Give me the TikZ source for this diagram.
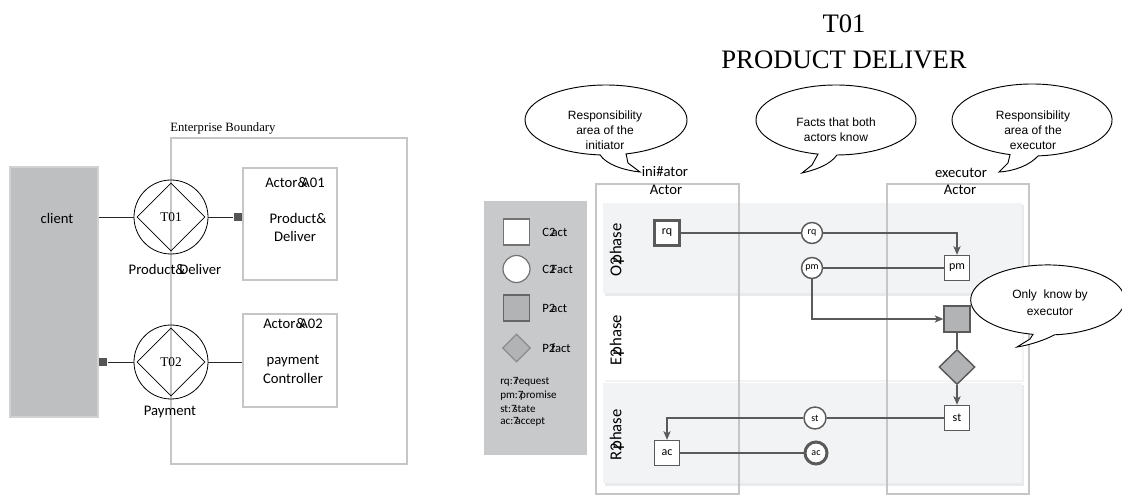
\documentclass[tikz,border=0pt]{standalone}
\usepackage{fontspec}
\setmainfont{Liberation Serif}
\newfontfamily\carl{Carlito}
\newfontfamily\ari{Liberation Sans}
\usetikzlibrary{shapes.geometric,arrows.meta}
\definecolor{lc}{HTML}{5A5A5A}
\definecolor{bordc}{HTML}{C6C6C6}
\definecolor{clientc}{HTML}{BEBFC1}
\definecolor{legc}{HTML}{C8C9CB}
\definecolor{pgray}{HTML}{B2B3B5}
\definecolor{bandc}{HTML}{F2F3F4}
\definecolor{shadc}{HTML}{E9EAEB}
\definecolor{darksq}{HTML}{555555}
\tikzset{
  graybox/.style={draw=bordc, line width=1.5pt, fill=white, inner sep=0pt},
  lconn/.style={draw=black!85, line width=0.6pt},
  conn/.style={draw=lc, line width=0.8pt},
  arr/.style={conn, -{Stealth[length=6.5pt,width=5.5pt,inset=1.8pt]}},
  smallsq/.style={rectangle, fill=darksq, minimum size=6pt, inner sep=0pt},
  tcirc/.style={circle, draw=black, line width=0.6pt, minimum size=55.5pt, inner sep=0pt},
  tdia/.style={diamond, draw=black, line width=0.6pt, minimum width=51pt, minimum height=51pt, inner sep=0pt, font=\fontsize{10}{12}\selectfont},
  ctxt/.style={font=\carl\fontsize{11}{13}\selectfont, inner sep=0pt},
  legtxt/.style={font=\carl\fontsize{9.5}{11}\selectfont, anchor=west, inner sep=0pt},
  abbr/.style={font=\carl\fontsize{8.3}{9.5}\selectfont, anchor=west, inner sep=0pt},
  sq/.style={rectangle, draw=lc, line width=1.1pt, fill=white, minimum size=18.75pt, inner sep=0pt, font=\carl\fontsize{9}{10}\selectfont},
  cf/.style={circle, draw=lc, line width=1.1pt, fill=white, minimum size=15.75pt, inner sep=0pt, font=\carl\fontsize{7.5}{8}\selectfont},
  bubble/.style={draw=black, line width=0.7pt, fill=white},
  btxt/.style={font=\ari\fontsize{9}{11.25}\selectfont, align=center, inner sep=0pt},
  phase/.style={font=\carl\fontsize{12.5}{14}\selectfont, rotate=90, inner sep=0pt}
}
\begin{document}
\begin{tikzpicture}[x=0.75pt,y=-0.75pt]
\useasboundingbox (0,0) rectangle (1122,495);

% ---------------- left part ----------------
\node[draw=bordc!80, line width=1.5pt, fill=clientc, minimum width=66pt, minimum height=187.5pt, inner sep=0pt] (client) at (54,292) {};
\node[ctxt] (clientlbl) at (57,218) {client};

\node[draw=bordc, line width=1.5pt, minimum width=177pt, minimum height=244.5pt, anchor=north west, inner sep=0pt] (eb) at (170,137) {};
\node[anchor=base west, inner sep=0pt, font=\fontsize{9.5}{11}\selectfont] (eblbl) at (170,132) {Enterprise Boundary};

\node[tcirc] (t01c) at (171,217) {};
\node[tdia] (t01) at (171,217) {T01};
\node[ctxt] (t01lbl) at (175,269) {Product\&\kern-.42em Deliver};

\node[graybox, minimum width=70.5pt, minimum height=84pt] (a01) at (290,224) {};
\node[ctxt] (a01t1) at (295,183) {Actor\&\kern-.42em A01};
\node[ctxt] (a01t2) at (298,218) {Product\&};
\node[ctxt] (a01t3) at (295,236) {Deliver};

\node[smallsq, anchor=east] (s1) at (a01.west |- t01c) {};
\draw[lconn] (client.east |- t01c) -- (t01c.west);
\draw[lconn] (t01c.east) -- (s1.west);

\node[tcirc] (t02c) at (171,362) {};
\node[tdia] (t02) at (171,362) {T02};
\node[ctxt] (t02lbl) at (170,412) {Payment};

\node[graybox, minimum width=70.5pt, minimum height=69.75pt] (a02) at (290,360.5) {};
\node[ctxt] (a02t1) at (293,324) {Actor\&\kern-.42em A02};
\node[ctxt] (a02t2) at (293,361) {payment};
\node[ctxt] (a02t3) at (293,378) {Controller};

\node[smallsq, anchor=west] (s2) at (client.east |- t02c) {};
\draw[lconn] (s2.east) -- (t02c.west);
\draw[lconn] (t02c.east) -- (a02.west |- t02c);

% ---------------- right part ----------------
\node[font=\fontsize{20}{24}\selectfont, inner sep=0pt] (title1) at (844,24) {T01};
\node[font=\fontsize{20}{24}\selectfont, inner sep=0pt] (title2) at (844,60) {PRODUCT DELIVER};

% phase bands
\fill[shadc!60] (605,299) rectangle (1024,382);
\fill[white] (603,297) rectangle (1022,380);
\fill[shadc] (605,205) rectangle (1024,296);
\fill[bandc] (603,203) rectangle (1022,293);
\fill[shadc] (605,385) rectangle (1024,486);
\fill[bandc] (603,383) rectangle (1022,483);

% actor columns
\node[draw=bordc, line width=1.5pt, minimum width=107.25pt, minimum height=232.5pt, anchor=north west, inner sep=0pt] (ini) at (595,183) {};
\node[draw=bordc, line width=1.5pt, minimum width=106.5pt, minimum height=232.5pt, anchor=north west, inner sep=0pt] (exe) at (886,183) {};
\node[ctxt] (initxt) at (666,190) {Actor};
\node[ctxt] (exetxt) at (960,190) {Actor};
\node[ctxt] (inilbl) at (665,172) {ini\#ator};
\node[ctxt] (exelbl) at (961,173) {executor};

\node[phase] (ph1) at (617,250) {O2\kern-.38em phase};
\node[phase] (ph2) at (617,340) {E2\kern-.38em phase};
\node[phase] (ph3) at (617,435) {R2\kern-.38em phase};

% legend
\node[fill=legc, minimum width=77.25pt, minimum height=190.5pt, anchor=north west, inner sep=0pt] (leg) at (484,201) {};
\node[rectangle, draw=black!55, line width=0.9pt, fill=white, minimum size=19.5pt, inner sep=0pt] (lg1) at (516.5,232) {};
\node[legtxt] (lg1t) at (542,232) {C2\kern-.3em act};
\node[circle, draw=black!55, line width=0.9pt, fill=white, minimum size=20.25pt, inner sep=0pt] (lg2) at (516.5,269) {};
\node[legtxt] (lg2t) at (542,269) {C2\kern-.3em Fact};
\node[rectangle, draw=black!60, line width=0.9pt, fill=pgray, minimum size=19.5pt, inner sep=0pt] (lg3) at (516.5,308) {};
\node[legtxt] (lg3t) at (542,308) {P2\kern-.3em act};
\node[diamond, draw=black!45, line width=0.9pt, fill=pgray, minimum width=21pt, minimum height=21pt, inner sep=0pt] (lg4) at (516.5,348) {};
\node[legtxt] (lg4t) at (542,348) {P2\kern-.3em fact};
\node[abbr] (ab1) at (500,382) {rq:7\kern-.3em request};
\node[abbr] (ab2) at (500,396) {pm:7\kern-.3em promise};
\node[abbr] (ab3) at (500,409) {st:7\kern-.3em state};
\node[abbr] (ab4) at (500,422) {ac:7\kern-.3em accept};

% process elements
\node[sq, line width=2.25pt] (rq) at (667,233) {rq};
\node[cf] (rqc) at (812,233) {rq};
\node[sq] (pm) at (957,268) {pm};
\node[cf] (pmc) at (812,268) {pm};
\node[rectangle, draw=lc, line width=1.1pt, fill=pgray, minimum size=19.5pt, inner sep=0pt] (pa) at (957,319) {};
\node[diamond, draw=lc, line width=1.1pt, fill=pgray, minimum width=27pt, minimum height=26.25pt, inner sep=0pt] (pf) at (957,367) {};
\node[sq] (st) at (957,418) {st};
\node[cf, minimum size=16.5pt] (stc) at (815,418) {st};
\node[sq] (ac) at (667,453) {ac};
\node[cf, minimum size=16.5pt, line width=2.25pt] (acc) at (816,453) {ac};

\draw[conn] (rq.east) -- (rqc.west);
\draw[arr] (rqc.east) -| (pm.north);
\draw[conn] (pmc.east) -- (pm.west);
\draw[arr] (pmc.south) |- (pa.west);
\draw[conn] (pa.south) -- (pf.north);
\draw[arr] (pf.south) -- (st.north);
\draw[conn] (st.west) -- (stc.east);
\draw[arr] (stc.west) -| (ac.north);
\draw[conn] (ac.east) -- (acc.west);

% speech bubbles
\draw[bubble] (600.1,154.9) arc[start angle=94.2, end angle=435.7, x radius=81, y radius=35]
  -- (628,163) -- (640,172) .. controls (622,170) and (606,164) .. cycle;
\node[btxt] (b1) at (605,130) {Responsibility\\area of the\\initiator};

\draw[bubble] (818,154.1) arc[start angle=103, end angle=449.3, x radius=80, y radius=35]
  .. controls (830,165) and (815,170) .. (802,173) -- (812,165) -- cycle;
\node[btxt] (b2) at (836,129.5) {Facts that both\\actors know};

\draw[bubble] (1010,154.6) arc[start angle=106, end angle=445.7, x radius=80, y radius=36]
  .. controls (1030,165) and (1015,171) .. (999,172) -- (1008,163) -- cycle;
\node[btxt] (b3) at (1033,130) {Responsibility\\area of the\\executor};

\draw[bubble] (1033,334.3) arc[start angle=101, end angle=444.9, x radius=77, y radius=35]
  .. controls (1045,340) and (1030,345) .. (1017,347) -- (1030,339) -- cycle;
\node[btxt, font=\ari\fontsize{9}{12.75}\selectfont] (b4) at (1050,303) {Only\ \ know by\\executor};

\end{tikzpicture}
\end{document}
